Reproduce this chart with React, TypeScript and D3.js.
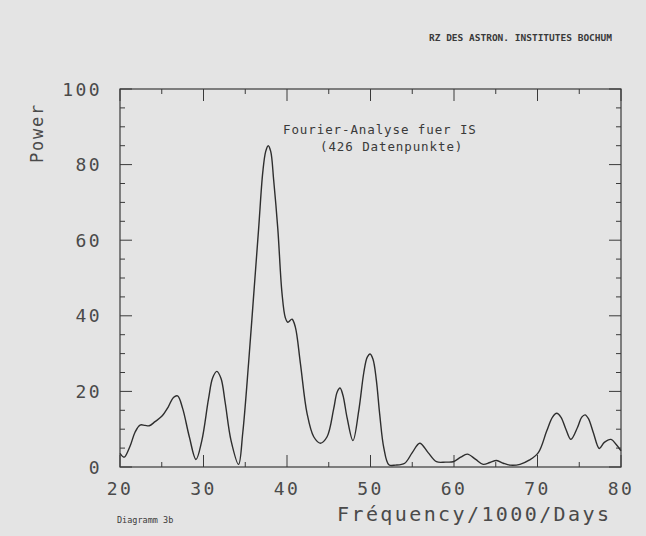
import { line, curveCatmullRom, scaleLinear, range } from "d3"

// Fourier power spectrum
const frequency = [
    20.0, 20.5, 21.2, 21.8, 22.4, 23.0, 23.5, 24.2, 25.0, 25.8, 26.4, 26.9, 27.5, 28.3, 29.1, 29.8,
    30.6, 31.1, 31.6, 32.1, 32.6, 33.3, 34.2, 34.7, 35.4, 36.0, 36.6, 37.1, 37.45, 37.75, 38.05, 38.4, 38.9, 39.4, 39.8,
    40.1, 40.6, 41.0, 41.6, 42.4, 43.2, 44.0, 44.8, 45.6, 46.0, 46.35, 46.7, 47.2, 47.9, 48.6, 49.2, 49.6, 49.95,
    50.3, 50.7, 51.1, 51.6, 52.2, 53.0, 54.1, 55.0, 55.9, 56.9, 57.9, 59.0, 59.9, 60.8, 61.6, 62.6,
    63.5, 64.3, 65.1, 65.9, 66.7, 67.9, 69.0, 70.1, 71.1, 71.8, 72.3, 72.8, 73.4, 74.0, 74.8, 75.3, 75.7, 76.1, 76.7,
    77.4, 78.0, 78.8, 79.4, 80.0,
]
const power = [
    3.6, 2.6, 5.5, 9.2, 11.1, 11.0, 10.9, 12.0, 13.4, 16.0, 18.4, 18.8, 15.5, 8.0, 2.0, 7.0,
    18.0, 23.6, 25.3, 23.4, 17.0, 7.0, 0.7, 9.0, 27.5, 45.2, 63.0, 78.0, 83.5, 85.0, 83.5, 76.0, 63.0, 46.0, 39.5,
    38.3, 39.1, 37.0, 27.5, 14.2, 8.0, 6.3, 8.0, 15.5, 19.8, 20.9, 19.0, 13.0, 7.0, 15.0, 25.0, 29.0, 29.9,
    28.5, 23.0, 14.0, 5.0, 0.6, 0.5, 1.0, 3.8, 6.3, 3.8, 1.4, 1.3, 1.4, 2.6, 3.4, 2.0,
    0.7, 1.2, 1.7, 1.0, 0.5, 0.7, 1.8, 3.8, 9.5, 13.2, 14.2, 13.2, 10.0, 7.3, 10.5, 13.2, 13.8, 12.8, 9.0,
    4.9, 6.5, 7.3, 6.0, 4.3,
]

const xTicks = range(20, 81, 10)
const xMinor = range(25, 80, 10)
const yTicks = range(0, 101, 20)
const yMinor = range(0, 101, 5).filter(v => v % 20 !== 0)

const ink = '#3a3a3a'
const label = '#4a4a4a'
const mono = '"DejaVu Sans Mono", "Liberation Mono", monospace'

const App = () => {
    const width = 646
    const height = 536
    const left = 120, right = 621, top = 89, bottom = 467

    const x = scaleLinear().domain([20, 80]).range([left, right])
    const y = scaleLinear().domain([0, 100]).range([bottom, top])

    const path = line<number>()
        .x(d => x(frequency[d]))
        .y(d => y(power[d]))
        .curve(curveCatmullRom.alpha(0.5))(frequency.map((_, i) => i))

    const major = 12
    const minor = 5

    return (
        <div style={{ position: 'fixed', left: 0, top: 0 }}>
            <svg width={width} height={height} style={{ display: 'block', background: '#e4e4e4' }}>
                <text x={612} y={41} textAnchor="end" fontFamily={mono} fontSize={9.5} fontWeight="bold" fill={ink}>
                    RZ DES ASTRON. INSTITUTES BOCHUM
                </text>

                <rect x={left} y={top} width={right - left} height={bottom - top} fill="none" stroke={ink} strokeWidth={1.2} />

                {xTicks.map(t => (
                    <g key={'x' + t}>
                        <line x1={x(t)} x2={x(t)} y1={bottom} y2={bottom - major} stroke={ink} strokeWidth={1} />
                        <line x1={x(t)} x2={x(t)} y1={top} y2={top + major} stroke={ink} strokeWidth={1} />
                        <text x={x(t)} y={495} textAnchor="middle" fontFamily={mono} fontSize={18} letterSpacing={2.4} fill={label}>{t}</text>
                    </g>
                ))}
                {xMinor.map(t => (
                    <g key={'xm' + t}>
                        <line x1={x(t)} x2={x(t)} y1={bottom} y2={bottom - minor} stroke={ink} strokeWidth={1} />
                        <line x1={x(t)} x2={x(t)} y1={top} y2={top + minor} stroke={ink} strokeWidth={1} />
                    </g>
                ))}
                {yTicks.map(t => (
                    <g key={'y' + t}>
                        <line x1={left} x2={left + major} y1={y(t)} y2={y(t)} stroke={ink} strokeWidth={1} />
                        <line x1={right} x2={right - major} y1={y(t)} y2={y(t)} stroke={ink} strokeWidth={1} />
                        <text x={102} y={y(t) + 6.5} textAnchor="end" fontFamily={mono} fontSize={18} letterSpacing={2.4} fill={label}>{t}</text>
                    </g>
                ))}
                {yMinor.map(t => (
                    <g key={'ym' + t}>
                        <line x1={left} x2={left + minor} y1={y(t)} y2={y(t)} stroke={ink} strokeWidth={1} />
                        <line x1={right} x2={right - minor} y1={y(t)} y2={y(t)} stroke={ink} strokeWidth={1} />
                    </g>
                ))}

                <path d={path ?? ''} fill="none" stroke="#2e2e2e" strokeWidth={1.4} />

                <text x={283} y={134} fontFamily={mono} fontSize={12.5} letterSpacing={0.9} fill={ink}>Fourier-Analyse fuer IS</text>
                <text x={320} y={151} fontFamily={mono} fontSize={12.5} letterSpacing={0.9} fill={ink}>(426 Datenpunkte)</text>

                <text transform="translate(43,133) rotate(-90)" textAnchor="middle" fontFamily={mono} fontSize={17} letterSpacing={1.8} fill={label}>Power</text>

                <text x={337} y={521} fontFamily={mono} fontSize={20} letterSpacing={2.4} fill={label}>Fréquency/1000/Days</text>
                <text x={117} y={523} fontFamily={mono} fontSize={8.5} fill={ink}>Diagramm 3b</text>
            </svg>
        </div>
    )
}

export default App
